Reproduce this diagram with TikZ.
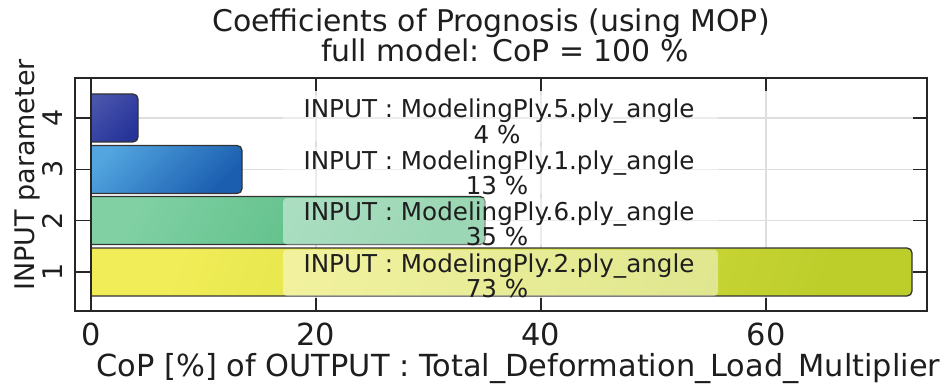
\documentclass[tikz,border=0pt]{standalone}
\usepackage{fontspec}
\setmainfont{DejaVu Sans}
\definecolor{barA4}{HTML}{4A55AC}\definecolor{barB4}{HTML}{26349A}
\definecolor{barA3}{HTML}{52A5DF}\definecolor{barB3}{HTML}{1B5EB0}
\definecolor{barA2}{HTML}{80D0A4}\definecolor{barB2}{HTML}{4CB779}
\definecolor{barA1}{HTML}{F1ED58}\definecolor{barB1}{HTML}{BDCE2B}
\definecolor{inkgray}{HTML}{1E1E1E}
\begin{document}
\begin{tikzpicture}[x=1pt,y=-1pt,
  gridline/.style={draw=black!13, line width=1.1},
  frameline/.style={draw=black!85, line width=1.4},
  barline/.style={draw=black!80, line width=1.3, rounded corners=5},
  labelbox/.style={fill=white, fill opacity=0.45, rounded corners=4},
  barlabel/.style={font=\fontsize{24.6}{28}\selectfont, text=inkgray, inner sep=0pt, anchor=base},
  titletext/.style={font=\fontsize{29.9}{36}\selectfont, text=inkgray, inner sep=0pt, anchor=base},
  bigtext/.style={font=\fontsize{30.4}{36}\selectfont, text=inkgray, inner sep=0pt, anchor=base},
  ytext/.style={font=\fontsize{27}{32}\selectfont, text=inkgray, inner sep=0pt, anchor=base, rotate=90}]
\useasboundingbox (0,0) rectangle (950,385);

% grid
\foreach \gy in {118,169.3,220.7,272}
  \draw[gridline] (91,\gy) -- (927,\gy);
\foreach \gx in {316,541,766}
  \draw[gridline] (\gx,78) -- (\gx,311);

% bars (left edge sits on the zero line)
\begin{scope}
  \clip (91,0) rectangle (950,385);
  \draw[barline, top color=barA4, bottom color=barB4, shading angle=45]
    (84,94) rectangle (138,142);
  \draw[barline, top color=barA3, bottom color=barB3, shading angle=45]
    (84,145.5) rectangle (242,193.5);
  \draw[barline, top color=barA2, bottom color=barB2, shading angle=60]
    (84,196.5) rectangle (485,244.5);
  \draw[barline, top color=barA1, bottom color=barB1, shading angle=70]
    (84,248) rectangle (912,296);
\end{scope}

% translucent label backgrounds
\fill[labelbox] (283,95.5) rectangle (718,142);
\fill[labelbox] (283,147) rectangle (718,193.5);
\fill[labelbox] (283,198) rectangle (718,244.5);
\fill[labelbox] (283,249.5) rectangle (718,296);

% bar labels
\node[barlabel] (l4a) at (499,118) {INPUT : ModelingPly.5.ply\_angle};
\node[barlabel] (l4b) at (497,143) {4 \%};
\node[barlabel] (l3a) at (499,169.3) {INPUT : ModelingPly.1.ply\_angle};
\node[barlabel] (l3b) at (497,194.3) {13 \%};
\node[barlabel] (l2a) at (499,220.7) {INPUT : ModelingPly.6.ply\_angle};
\node[barlabel] (l2b) at (497,245.7) {35 \%};
\node[barlabel] (l1a) at (499,272) {INPUT : ModelingPly.2.ply\_angle};
\node[barlabel] (l1b) at (497,297) {73 \%};

% frame, zero line and ticks
\draw[frameline] (75,78) rectangle (927,311);
\draw[frameline] (91,78) -- (91,311);
\foreach \gy in {118,169.3,220.7,272} {
  \draw[frameline] (75,\gy) -- (90,\gy);
  \draw[frameline] (913,\gy) -- (927,\gy);
}
\foreach \gx in {316,541,766} {
  \draw[frameline] (\gx,311) -- (\gx,298);
  \draw[frameline] (\gx,78) -- (\gx,91);
}

% titles and axis labels
\node[titletext] (title1) at (491,32) {Coefficients of Prognosis (using MOP)};
\node[titletext] (title2) at (505,62) {full model: CoP = 100 \%};
\node[bigtext] (xt0) at (91,345) {0};
\node[bigtext] (xt20) at (316,345) {20};
\node[bigtext] (xt40) at (541,345) {40};
\node[bigtext] (xt60) at (766,345) {60};
\node[bigtext] (xlab) at (518.5,376) {CoP [\%] of OUTPUT : Total\_Deformation\_Load\_Multiplier};
\node[ytext] (ylab) at (34,175) {INPUT parameter};
\node[ytext] (yt1) at (62,272) {1};
\node[ytext] (yt2) at (62,220.7) {2};
\node[ytext] (yt3) at (62,169.3) {3};
\node[ytext] (yt4) at (62,118) {4};
\end{tikzpicture}
\end{document}
